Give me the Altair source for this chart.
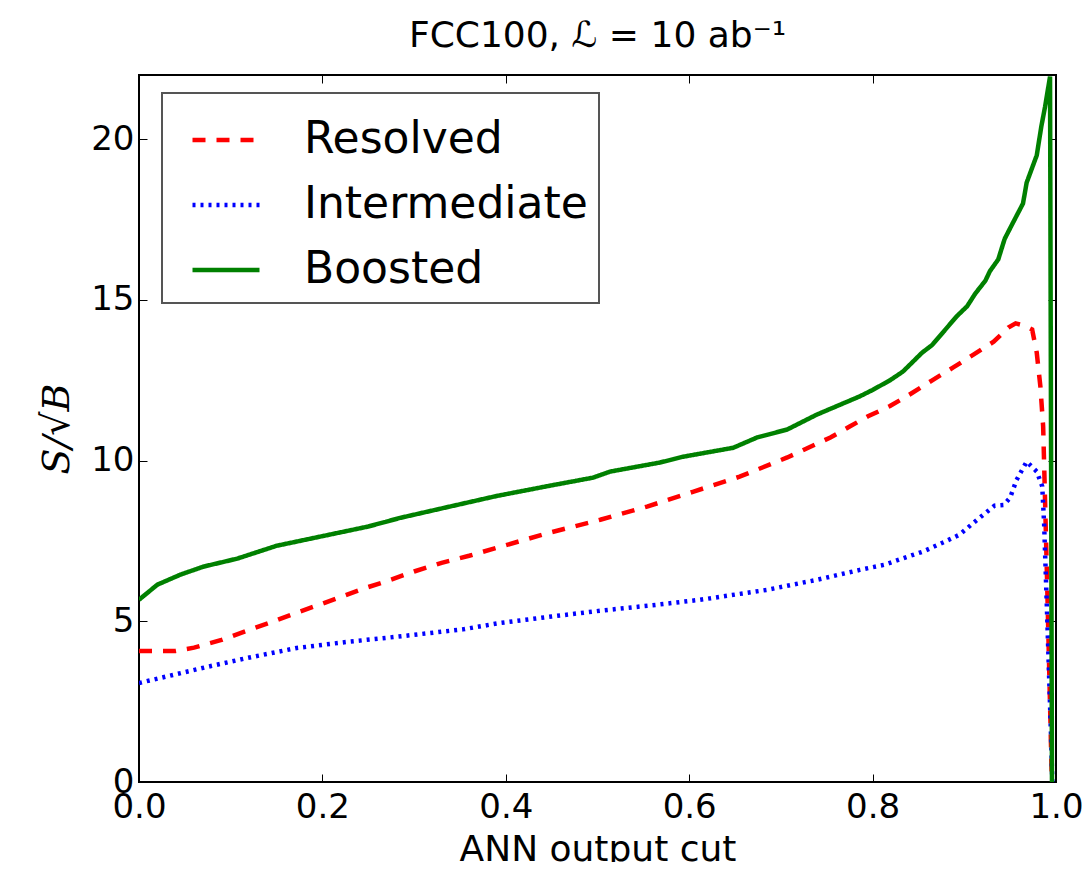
import altair as alt
import pandas as pd

series_names = ["Resolved", "Intermediate", "Boosted"]
series_colors = ["#ff0000", "#0000ff", "#008000"]

resolved_x = [0.0, 0.04, 0.06, 0.09, 0.115, 0.145, 0.17, 0.195, 0.22, 0.245, 0.27, 0.3, 0.33,
              0.36, 0.394, 0.448, 0.503, 0.554, 0.604, 0.655, 0.707, 0.754, 0.775, 0.795,
              0.819, 0.84, 0.865, 0.888, 0.91, 0.932, 0.948, 0.956, 0.966, 0.974, 0.979,
              0.983, 0.986, 0.9875, 0.9905, 0.993, 0.9955]
resolved_y = [4.08, 4.08, 4.18, 4.42, 4.68, 4.98, 5.25, 5.5, 5.76, 6.02, 6.25, 6.55, 6.82,
              7.04, 7.32, 7.76, 8.16, 8.57, 9.03, 9.5, 10.1, 10.72, 11.06, 11.38,
              11.7, 12.05, 12.5, 12.9, 13.3, 13.7, 14.14, 14.27, 14.2, 14.08, 13.36,
              12.3, 11.06, 9.4, 6.0, 3.0, 0.0]

intermediate_x = [0.0, 0.037, 0.074, 0.118, 0.172, 0.227, 0.281, 0.353, 0.394, 0.45, 0.503,
                  0.56, 0.612, 0.685, 0.739, 0.786, 0.813, 0.837, 0.855, 0.879, 0.895,
                  0.914, 0.933, 0.943, 0.95, 0.957, 0.968, 0.979, 0.985, 0.987, 0.9905,
                  0.9945, 0.996]
intermediate_y = [3.08, 3.33, 3.58, 3.86, 4.17, 4.36, 4.52, 4.75, 4.95, 5.15, 5.33,
                  5.5, 5.67, 5.98, 6.29, 6.6, 6.76, 7.0, 7.17, 7.48, 7.7,
                  8.16, 8.6, 8.62, 8.85, 9.4, 9.97, 9.66, 9.2, 8.07, 5.05,
                  1.5, 0.0]

boosted_x = [0.0, 0.02, 0.045, 0.07, 0.107, 0.15, 0.2, 0.25, 0.285, 0.328, 0.39, 0.448,
             0.495, 0.514, 0.568, 0.593, 0.648, 0.674, 0.707, 0.739, 0.786, 0.8, 0.819,
             0.833, 0.854, 0.865, 0.877, 0.892, 0.903, 0.912, 0.923, 0.928, 0.937, 0.944,
             0.953, 0.964, 0.968, 0.979, 0.984, 0.988, 0.9935, 0.9956]
boosted_y = [5.67, 6.14, 6.45, 6.7, 6.95, 7.35, 7.65, 7.95, 8.22, 8.5, 8.9, 9.22,
             9.47, 9.66, 9.94, 10.12, 10.4, 10.72, 10.97, 11.43, 12.0, 12.2, 12.5,
             12.77, 13.36, 13.6, 14.0, 14.5, 14.8, 15.2, 15.6, 15.9, 16.26, 16.9,
             17.4, 18.0, 18.65, 19.5, 20.4, 21.0, 21.95, 0.0]

x_ticks = [0.0, 0.2, 0.4, 0.6, 0.8, 1.0]
y_ticks = [0, 5, 10, 15, 20]

rows = []
for name, xs_, ys_ in [("Resolved", resolved_x, resolved_y),
                       ("Intermediate", intermediate_x, intermediate_y),
                       ("Boosted", boosted_x, boosted_y)]:
    for i, (a, b) in enumerate(zip(xs_, ys_)):
        rows.append({"series": name, "cut": a, "sb": b, "idx": i})
df = pd.DataFrame(rows)

FONT = "DejaVu Sans"
x_scale = alt.Scale(domain=[0, 1], nice=False, zero=False)
y_scale = alt.Scale(domain=[0, 22], nice=False, zero=False)

lines = alt.Chart(df).mark_line(strokeWidth=4.5, clip=True).encode(
    x=alt.X("cut:Q", scale=x_scale,
            axis=alt.Axis(orient="bottom", values=x_ticks, format=".1f", offset=-8,
                          tickSize=8, tickColor="black", tickWidth=1, domain=False,
                          grid=False, labelFont=FONT, labelFontSize=34, labelColor="black",
                          labelPadding=8, labelFlush=False, labelOverlap=False,
                          title="ANN output cut", titleFont=FONT, titleFontSize=36,
                          titleFontWeight="normal", titleColor="black", titlePadding=8)),
    y=alt.Y("sb:Q", scale=y_scale,
            axis=alt.Axis(orient="left", values=y_ticks, format="d", offset=-8,
                          tickSize=8, tickColor="black", tickWidth=1, domain=False,
                          grid=False, labelFont=FONT, labelFontSize=34, labelColor="black",
                          labelPadding=5, labelFlush=False, labelOverlap=False,
                          title="S/√B", titleFont="DejaVu Serif", titleFontStyle="italic",
                          titleFontSize=38, titleFontWeight="normal", titleColor="black",
                          titlePadding=14)),
    color=alt.Color("series:N", scale=alt.Scale(domain=series_names, range=series_colors),
                    legend=alt.Legend(title=None)),
    strokeDash=alt.StrokeDash("series:N",
                              scale=alt.Scale(domain=series_names,
                                              range=[[13, 11], [3, 5], [1, 0]]),
                              legend=alt.Legend(title=None)),
    order="idx:Q",
)

ticks = alt.Chart(df).mark_line(opacity=0).encode(
    x=alt.X("cut:Q", scale=x_scale,
            axis=alt.Axis(orient="top", values=x_ticks, offset=-8, tickSize=8,
                          tickColor="black", tickWidth=1, domain=False, grid=False,
                          labels=False, title=None)),
    y=alt.Y("sb:Q", scale=y_scale,
            axis=alt.Axis(orient="right", values=y_ticks, offset=-8, tickSize=8,
                          tickColor="black", tickWidth=1, domain=False, grid=False,
                          labels=False, title=None)),
    order="idx:Q",
)

chart = alt.layer(lines, ticks).resolve_axis(x="independent", y="independent").properties(
    width=917,
    height=707,
    autosize=alt.AutoSizeParams(type="none"),
    padding={"left": 131, "top": 67, "right": 27, "bottom": 80},
    title=alt.Title("FCC100, ℒ = 10 ab⁻¹", font=FONT, fontSize=36, fontWeight="normal",
                    color="black", frame="group", anchor="middle", offset=20),
).configure_view(
    stroke="black", strokeWidth=2
).configure_legend(
    orient="none", legendX=23, legendY=18,
    fillColor="white", strokeColor="#555555", strokeWidth=2, cornerRadius=0,
    padding=11, symbolOffset=17, symbolType="stroke", symbolSize=4489,
    symbolStrokeWidth=4.5, labelFont=FONT, labelFontSize=44, labelColor="black",
    labelOffset=42, labelLimit=1000, rowPadding=7,
)

chart.save("out.html", embed_options={"renderer": "svg", "actions": False})
